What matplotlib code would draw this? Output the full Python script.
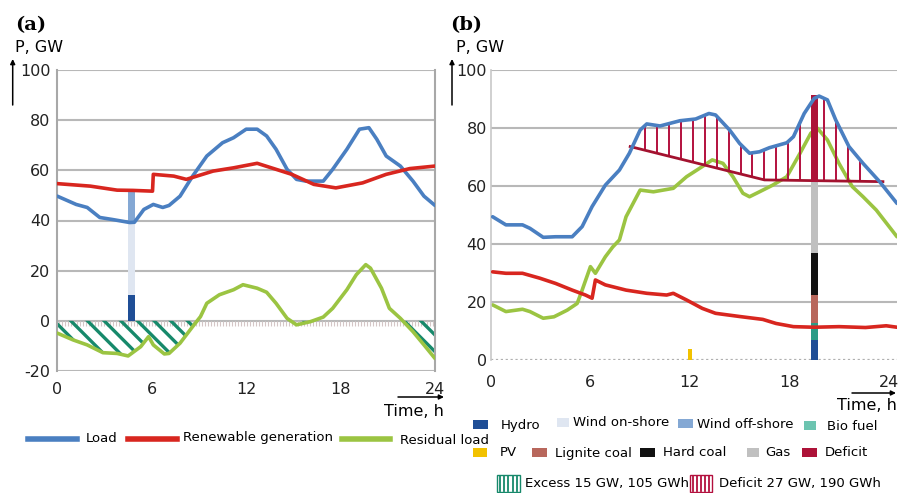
import numpy as np
import matplotlib
matplotlib.use('Agg')
import matplotlib.pyplot as plt
from matplotlib.patches import Rectangle, FancyArrowPatch
from matplotlib.lines import Line2D

plt.rcParams['font.family'] = ['DejaVu Sans']
plt.rcParams['axes.unicode_minus'] = False
plt.rcParams['hatch.linewidth'] = 2.4
plt.rcParams['hatch.color'] = '#17896b'

# ---------------- data: panel (a) ----------------
a_yticks = [-20, 0, 20, 40, 60, 80, 100]
x_ticks = [0, 6, 12, 18, 24]

load_a_h = [0, 1.2, 1.9, 2.7, 3.5, 4.6, 4.9, 5.5, 6.1, 6.7, 7.1, 7.8, 8.6, 9.5, 10.5, 11.2,
            12.0, 12.7, 13.3, 13.9, 14.6, 15.2, 15.8, 16.9, 17.5, 18.4, 19.2, 19.8, 20.3,
            20.9, 21.8, 22.6, 23.3, 24.0]
load_a = [49.7, 46.4, 45.2, 41.2, 40.4, 39.2, 39.3, 44.4, 46.4, 45.2, 46.0, 49.7, 57.7, 65.7,
          71.0, 73.0, 76.4, 76.4, 73.7, 68.4, 60.4, 56.4, 55.7, 55.7, 60.4, 68.4, 76.4, 77.0,
          72.4, 65.7, 61.7, 55.7, 49.7, 46.0]

ren_a_h = [0, 2.1, 3.8, 4.8, 6.05, 6.1, 7.4, 8.2, 9.9, 11.2, 12.7, 13.9, 14.9, 16.3, 17.7,
           19.4, 20.9, 22.4, 24.0]
ren_a = [54.7, 53.7, 52.1, 52.0, 51.7, 58.4, 57.7, 56.4, 59.7, 61.0, 62.8, 60.4, 58.4, 54.4,
         53.0, 55.0, 58.4, 60.7, 61.7]

res_a_h = [0, 1.0, 1.9, 2.9, 3.8, 4.5, 5.3, 5.8, 6.1, 6.8, 7.1, 7.8, 8.6, 9.1, 9.5, 10.3,
           11.2, 11.8, 12.7, 13.3, 13.9, 14.6, 15.2, 16.1, 16.9, 17.5, 18.4, 19.0, 19.6, 19.9,
           20.6, 21.1, 21.8, 22.6, 23.3, 24.0]
res_a = [-4.9, -7.6, -9.6, -12.7, -13.0, -14.0, -10.3, -6.3, -9.6, -13.2, -13.0, -8.9, -2.3,
         1.7, 7.0, 10.4, 12.4, 14.4, 13.0, 11.4, 7.0, 1.0, -1.6, -0.3, 1.5, 5.0, 12.4, 18.4,
         22.4, 21.0, 13.0, 5.0, 1.0, -4.3, -9.6, -15.0]

# storage bar in (a) at ~4.7 h: hydro, wind on-shore, wind off-shore (bottom, top)
store_a_h = 4.7
store_a_names = ['Hydro', 'Wind on-shore', 'Wind off-shore']
store_a_bottom = [0.0, 10.4, 39.7]
store_a_top = [10.4, 39.7, 51.7]

# ---------------- data: panel (b) ----------------
b_yticks = [0, 20, 40, 60, 80, 100]

load_b_h = [0.1, 0.9, 1.9, 2.35, 3.15, 3.9, 4.9, 5.5, 6.1, 6.9, 7.75, 8.35, 9.0, 9.4, 10.2,
            11.4, 12.35, 13.15, 13.55, 14.4, 15.0, 15.6, 16.2, 16.8, 17.85, 18.25, 18.9, 19.5,
            19.8, 20.3, 20.8, 21.6, 22.45, 23.45, 24.5]
load_b = [49.4, 46.6, 46.6, 45.4, 42.3, 42.5, 42.5, 46.0, 52.9, 60.3, 65.5, 71.3, 79.3, 81.4,
          80.7, 82.5, 83.1, 85.0, 84.5, 79.3, 74.7, 71.3, 71.8, 73.2, 74.9, 77.0, 85.0, 90.2,
          91.0, 89.7, 82.8, 73.6, 67.8, 61.5, 54.0]

res_b_h = [0.1, 0.9, 1.9, 2.35, 3.15, 3.8, 4.6, 5.2, 5.5, 6.0, 6.3, 6.9, 7.35, 7.75, 8.15,
           9.0, 9.8, 11.0, 11.8, 12.75, 13.35, 14.0, 14.6, 15.2, 15.6, 16.2, 17.0, 17.85,
           18.65, 19.3, 19.7, 20.3, 21.0, 21.8, 22.45, 23.25, 24.5]
res_b = [19.0, 16.7, 17.5, 16.7, 14.4, 14.9, 17.2, 19.5, 24.1, 32.2, 29.9, 35.6, 39.0, 41.4,
         49.4, 58.6, 58.0, 59.2, 63.2, 66.7, 69.0, 67.8, 63.2, 57.5, 56.3, 58.0, 60.3, 63.2,
         71.3, 78.2, 79.9, 75.9, 67.8, 59.8, 56.3, 51.7, 42.5]

ren_b_h = [0.1, 0.9, 1.9, 2.95, 3.9, 4.9, 5.7, 6.1, 6.3, 6.9, 8.15, 9.4, 10.6, 11.0, 11.8,
           12.75, 13.55, 15.0, 16.4, 17.2, 18.25, 19.5, 21.0, 22.6, 23.85, 24.5]
ren_b = [30.4, 29.9, 29.9, 28.2, 26.4, 24.1, 22.4, 21.3, 27.6, 25.9, 24.1, 23.0, 22.4, 23.0,
         20.7, 17.8, 16.1, 15.0, 14.0, 12.6, 11.5, 11.3, 11.5, 11.2, 11.8, 11.3]

# stacked supply bar in (b) at ~19.5 h
stack_b_h = 19.5
stack_b_names = ['Hydro', 'Bio fuel', 'Lignite coal', 'Hard coal', 'Gas', 'Deficit']
stack_b_bottom = [0.0, 6.9, 12.6, 22.4, 37.0, 61.5]
stack_b_top = [6.9, 12.6, 22.4, 37.0, 61.5, 91.4]

pv_b_h = 12.0
pv_b = 3.8

# deficit reference line (b)
def_base_h = [8.4, 16.5, 23.65]
def_base = [73.6, 62.1, 61.5]

# ---------------- colours ----------------
C_LOAD = '#4a7fc1'
C_REN = '#d8261f'
C_RES = '#9bc442'
GRID = '#b8b8b8'
COL = {
    'Hydro': '#1f4e96', 'Wind on-shore': '#dfe6f1', 'Wind off-shore': '#84a8d4',
    'Bio fuel': '#2a9c86', 'PV': '#f2c200', 'Lignite coal': '#b8675c',
    'Hard coal': '#111111', 'Gas': '#c0c0c0', 'Deficit': '#ad1238',
}
C_EXCESS = '#17896b'
C_DEF = '#b3103e'

W, H = 900, 493
fig = plt.figure(figsize=(W / 100, H / 100), dpi=100)


def fx(x):
    return x / W


def fy(y):
    return 1 - y / H


ax_a = fig.add_axes([fx(57.3), fy(371), fx(435) - fx(57.3), fy(70) - fy(371)])
ax_b = fig.add_axes([fx(491), fy(360), fx(897) - fx(491), fy(70) - fy(360)])

# ---------------- panel (a) ----------------
ax_a.set_xlim(0, 24)
ax_a.set_ylim(-20, 100)
for v in a_yticks:
    ax_a.axhline(v, color=GRID, lw=1.5, zorder=1)
ax_a.vlines(np.arange(0.1, 24, 0.19), -1.9, 0, color='#d4c6c6', lw=0.8, zorder=1)
ra = np.array(res_a)
ax_a.fill_between(res_a_h, ra, 0, where=ra < 0.2, interpolate=True, facecolor='none',
                  edgecolor=C_EXCESS, hatch='\\\\', linewidth=0, zorder=2)
for name, b0, t0 in zip(store_a_names, store_a_bottom, store_a_top):
    ax_a.bar(store_a_h, t0 - b0, bottom=b0, width=0.45, color=COL[name], lw=0, zorder=3)
ax_a.plot(load_a_h, load_a, color=C_LOAD, lw=2.6, zorder=4, solid_capstyle='round')
ax_a.plot(ren_a_h, ren_a, color=C_REN, lw=2.6, zorder=4, solid_capstyle='round')
ax_a.plot(res_a_h, res_a, color=C_RES, lw=2.6, zorder=4, solid_capstyle='round')

ax_a.set_xticks(x_ticks)
ax_a.set_yticks(a_yticks)
ax_a.tick_params(length=0, labelsize=11.5, colors='#222222')
ax_a.tick_params(axis='y', pad=5)
ax_a.tick_params(axis='x', pad=8)
for s in ['top', 'bottom']:
    ax_a.spines[s].set_visible(False)
for s in ['left', 'right']:
    ax_a.spines[s].set_color('#a8a8a8')
    ax_a.spines[s].set_linewidth(1.5)

# ---------------- panel (b) ----------------
ax_b.set_xlim(0, 24.5)
ax_b.set_ylim(0, 100)
for v in b_yticks[1:]:
    ax_b.axhline(v, color=GRID, lw=1.5, zorder=1)
ax_b.axhline(0, color='#b0b0b0', lw=1.6, ls=(0, (1, 1.2)), zorder=1)

# deficit hatch (vertical lines between reference line and load)
hv = np.arange(9.3, 22.6, 0.72)
lo = np.interp(hv, def_base_h, def_base)
hi = np.interp(hv, load_b_h, load_b)
ax_b.vlines(hv, lo, hi, color=C_DEF, lw=1.4, zorder=3)
ax_b.plot(def_base_h, def_base, color='#a3122f', lw=2.0, zorder=3)

for name, b0, t0 in zip(stack_b_names, stack_b_bottom, stack_b_top):
    ax_b.bar(stack_b_h, t0 - b0, bottom=b0, width=0.42, color=COL[name], lw=0,
             zorder=2 if name != 'Deficit' else 3)
ax_b.bar(pv_b_h, pv_b, width=0.22, color=COL['PV'], lw=0, zorder=2)

ax_b.plot(load_b_h, load_b, color=C_LOAD, lw=2.6, zorder=4, solid_capstyle='round')
ax_b.plot(res_b_h, res_b, color=C_RES, lw=2.6, zorder=2.5, solid_capstyle='round')
ax_b.plot(ren_b_h, ren_b, color=C_REN, lw=2.6, zorder=4, solid_capstyle='round')

ax_b.set_xticks(x_ticks)
ax_b.set_yticks(b_yticks)
ax_b.tick_params(length=0, labelsize=11.5, colors='#222222')
ax_b.tick_params(axis='y', pad=3)
ax_b.tick_params(axis='x', pad=11)
for s in ['top', 'bottom', 'right']:
    ax_b.spines[s].set_visible(False)
ax_b.spines['left'].set_color('#c8c8c8')
ax_b.spines['left'].set_linewidth(1.2)

# ---------------- annotations ----------------
def ftext(x, y, s, **kw):
    fig.text(fx(x), fy(y), s, **kw)


def farrow(x0, y0, x1, y1):
    fig.add_artist(FancyArrowPatch((fx(x0), fy(y0)), (fx(x1), fy(y1)),
                                   transform=fig.transFigure, arrowstyle='-|>',
                                   mutation_scale=7, lw=1.1, color='black',
                                   shrinkA=0, shrinkB=0))


ftext(15, 25, '(a)', family='DejaVu Serif', weight='bold', size=14, va='center', ha='left')
ftext(450, 25, '(b)', family='DejaVu Serif', weight='bold', size=14, va='center', ha='left')
ftext(15, 48, 'P, GW', size=11.5, va='center', ha='left')
ftext(456, 48, 'P, GW', size=11.5, va='center', ha='left')
farrow(12.7, 105, 12.7, 59)
farrow(452, 105, 452, 59)
farrow(398, 397, 444, 397)
farrow(852, 393, 896, 393)
ftext(444, 411, 'Time, h', size=11.5, va='center', ha='right')
ftext(897, 406, 'Time, h', size=11.5, va='center', ha='right')

# legend (a)
leg_a = [('Load', C_LOAD, 28, 77, 86), ('Renewable generation', C_REN, 128, 177, 183),
         ('Residual load', C_RES, 342, 390, 400)]
for lab, c, x0, x1, xt in leg_a:
    fig.add_artist(Line2D([fx(x0), fx(x1)], [fy(439), fy(439)], color=c, lw=4,
                          transform=fig.transFigure))
    ftext(xt, 438 if lab != 'Residual load' else 441, lab, size=9.5, va='center', ha='left')

# legend (b)
leg_b = [('Hydro', 473, 488, 501, 425), ('Wind on-shore', 557, 569, 573, 423),
         ('Wind off-shore', 678, 693, 697, 424), ('Bio fuel', 804, 816, 827, 426),
         ('PV', 473, 487, 500, 453), ('Lignite coal', 532, 547, 555, 453),
         ('Hard coal', 640, 655, 663, 453), ('Gas', 747, 759, 765, 453),
         ('Deficit', 802, 817, 825, 453)]
for lab, x0, x1, xt, y in leg_b:
    c = COL[lab]
    if lab == 'Bio fuel':
        c = '#6cc4b0'
    fig.add_artist(Rectangle((fx(x0), fy(y + 4)), fx(x1) - fx(x0), fy(y - 5) - fy(y + 4),
                             transform=fig.transFigure, color=c, lw=0))
    ftext(xt, y, lab, size=9.5, va='center', ha='left')

for lab, c, x0, x1, xt in [('Excess 15 GW, 105 GWh', C_EXCESS, 497, 520, 525),
                            ('Deficit 27 GW, 190 GWh', C_DEF, 690, 712, 719)]:
    fig.add_artist(Rectangle((fx(x0), fy(492)), fx(x1) - fx(x0), fy(475) - fy(492),
                             transform=fig.transFigure, facecolor='white', edgecolor=c, lw=1.0))
    for xx in np.linspace(x0 + 3, x1 - 3, 5):
        fig.add_artist(Line2D([fx(xx), fx(xx)], [fy(491), fy(476)], color=c, lw=1.3,
                              transform=fig.transFigure))
    ftext(xt, 483, lab, size=9.5, va='center', ha='left')

fig.savefig('out.png', dpi=100)
